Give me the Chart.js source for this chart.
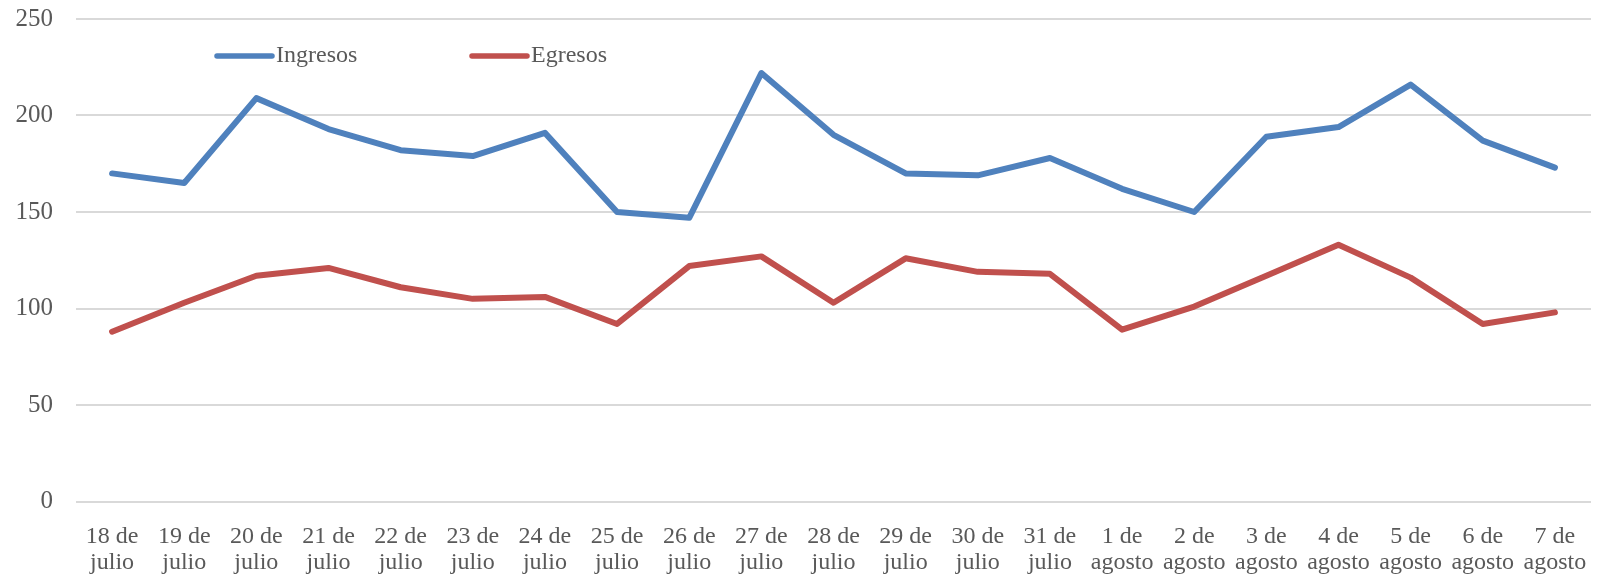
<!DOCTYPE html>
<html>
<head>
<meta charset="utf-8">
<script src="https://cdn.jsdelivr.net/npm/chart.js@4"></script>
<style>
  body { margin: 0; background: #fff; }
</style>
</head>
<body>
<canvas id="lineChart" width="1600" height="576"></canvas>
<script>
let dias = [
    ['18 de', 'julio'], ['19 de', 'julio'], ['20 de', 'julio'], ['21 de', 'julio'],
    ['22 de', 'julio'], ['23 de', 'julio'], ['24 de', 'julio'], ['25 de', 'julio'],
    ['26 de', 'julio'], ['27 de', 'julio'], ['28 de', 'julio'], ['29 de', 'julio'],
    ['30 de', 'julio'], ['31 de', 'julio'], ['1 de', 'agosto'], ['2 de', 'agosto'],
    ['3 de', 'agosto'], ['4 de', 'agosto'], ['5 de', 'agosto'], ['6 de', 'agosto'],
    ['7 de', 'agosto']
];
let ingresos = [170, 165, 209, 193, 182, 179, 191, 150, 147, 222, 190, 170, 169, 178, 162, 150, 189, 194, 216, 187, 173];
let egresos = [88, 103, 117, 121, 111, 105, 106, 92, 122, 127, 103, 126, 119, 118, 89, 101, 117, 133, 116, 92, 98];

let fuente = 'Liberation Serif';
let gris = '#595959';

// legend drawn inside the plot, like the original
const legendInside = {
    id: 'legendInside',
    afterDraw(chart) {
        const ctx = chart.ctx;
        const xs = [217, 472];
        ctx.save();
        ctx.font = '24px "' + fuente + '"';
        ctx.textBaseline = 'middle';
        chart.data.datasets.forEach((ds, i) => {
            let x = xs[i];
            let y = 56;
            ctx.strokeStyle = ds.borderColor;
            ctx.lineWidth = 5.5;
            ctx.lineCap = 'round';
            ctx.beginPath();
            ctx.moveTo(x, y);
            ctx.lineTo(x + 55, y);
            ctx.stroke();
            ctx.fillStyle = gris;
            ctx.fillText(ds.label, x + 59, y);
        });
        ctx.restore();
    }
};

new Chart('lineChart', {
    type: 'line',
    data: {
        labels: dias,
        datasets: [{
            label: 'Ingresos',
            data: ingresos,
            borderColor: '#4F81BD',
            backgroundColor: '#4F81BD',
            borderWidth: 6,
            pointRadius: 0,
            borderCapStyle: 'round',
            borderJoinStyle: 'round',
            tension: 0
        }, {
            label: 'Egresos',
            data: egresos,
            borderColor: '#C0504D',
            backgroundColor: '#C0504D',
            borderWidth: 6,
            pointRadius: 0,
            borderCapStyle: 'round',
            borderJoinStyle: 'round',
            tension: 0
        }]
    },
    options: {
        responsive: false,
        animation: false,
        layout: { padding: { top: 19, right: 9, left: 0, bottom: 0 } },
        plugins: {
            legend: { display: false },
            tooltip: { enabled: false }
        },
        scales: {
            x: {
                offset: true,
                grid: { display: false },
                border: { display: false },
                ticks: {
                    color: gris,
                    font: { family: fuente, size: 24, lineHeight: 1.1 },
                    padding: 14,
                    maxRotation: 0,
                    autoSkip: false
                },
                afterFit(scale) {
                    scale.height = 74.5;
                    scale.paddingLeft = 0;
                    scale.paddingRight = 0;
                }
            },
            y: {
                min: 0,
                max: 250,
                grid: { color: '#D9D9D9', lineWidth: 2, drawTicks: false },
                border: { display: false },
                ticks: {
                    stepSize: 50,
                    color: gris,
                    font: { family: fuente, size: 25 },
                    padding: 23
                },
                afterFit(scale) {
                    scale.width = 76;
                    scale.paddingTop = 0;
                    scale.paddingBottom = 0;
                }
            }
        }
    },
    plugins: [legendInside]
});
</script>
</body>
</html>
